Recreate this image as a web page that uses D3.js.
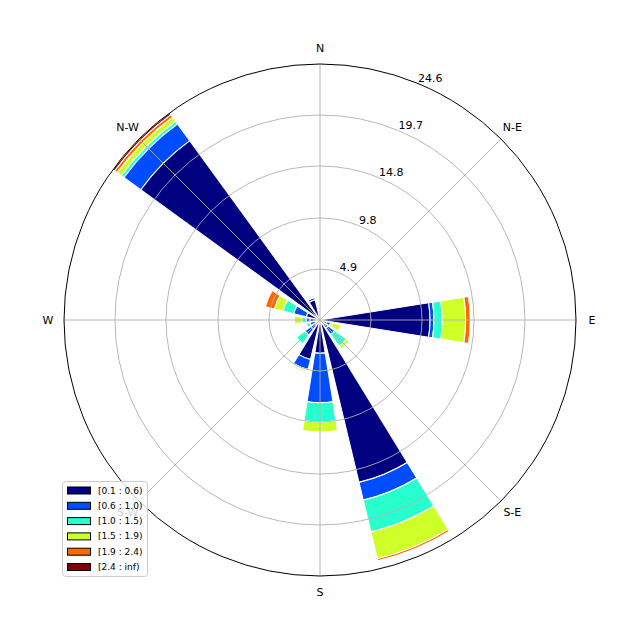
<!DOCTYPE html>
<html>
<head>
<meta charset="utf-8">
<script src="https://cdn.jsdelivr.net/npm/d3@7"></script>
<style>
  html, body { margin: 0; padding: 0; background: #fff; }
  svg { display: block; font-family: "DejaVu Sans", sans-serif; }
</style>
</head>
<body>
<svg id="chart" width="640" height="640"></svg>
<script>
// ---- data ----
const directions = ["N","NNE","NE","ENE","E","ESE","SE","SSE","S","SSW","SW","WSW","W","WNW","NW","NNW"];
const bearings = [0,22.5,45,67.5,90,112.5,135,157.5,180,202.5,225,247.5,270,292.5,315,337.5];
const binLabels = ["[0.1 : 0.6)","[0.6 : 1.0)","[1.0 : 1.5)","[1.5 : 1.9)","[1.9 : 2.4)","[2.4 : inf)"];
// frequency (%) per direction for each speed bin
const bin0 = [0,0,0,0,10.57,0.67,0.96,16.05,3.2,3.9,1.05,0.5,0.96,1.35,21.3,2.0];
const bin1 = [0,0,0,0,0.38,0.39,0.77,1.75,4.75,1.0,0.75,0.5,0.39,1.25,2.0,0.2];
const bin2 = [0,0,0,0,0.80,0.19,1.40,3.15,1.85,0.15,1.0,0.35,0.41,1.05,0.3,0];
const bin3 = [0,0,0,0,2.25,0.82,0.33,2.65,0.95,0.15,0,0,0.71,0.85,0.5,0];
const bin4 = [0,0,0,0,0.44,0,0,0.2,0,0,0,0,0,0.9,0.3,0];
const bin5 = [0,0,0,0,0,0,0,0,0,0,0,0,0,0,0.2,0];
const bins = [bin0,bin1,bin2,bin3,bin4,bin5];
const rTicks = [4.9,9.8,14.8,19.7,24.6];
const rMax = 24.6;
const cardinalAngles = [0,45,90,135,180,225,270,315];
const cardinalLabels = ["N","N-E","E","S-E","S","S-W","W","N-W"];
const colors = ["#000080","#004dff","#29ffce","#ceff29","#ff6800","#800000"];

// ---- drawing ----
const svg = d3.select("#chart");
const cx = 320, cy = 320, R = 256;
const r = d3.scaleLinear().domain([0, rMax]).range([0, R]);
const toRad = d => d * Math.PI / 180;
const g = svg.append("g").attr("transform", `translate(${cx},${cy})`);

// stacked table
const stacks = directions.map((d, i) => {
  let off = 0;
  return bins.map((b, k) => {
    const s = { dir: d, bearing: bearings[i], bin: k, y0: off, y1: off + b[i] };
    off += b[i];
    return s;
  });
});
const segs = [];
bins.forEach((b, k) => stacks.forEach(st => { if (st[k].y1 > st[k].y0) segs.push(st[k]); }));

const halfOpen = 22.5 * 0.8 / 2;
const arc = d3.arc()
  .innerRadius(d => r(d.y0))
  .outerRadius(d => r(d.y1))
  .startAngle(d => toRad(d.bearing - halfOpen))
  .endAngle(d => toRad(d.bearing + halfOpen));

g.append("g").selectAll("path").data(segs).join("path")
  .attr("d", arc)
  .attr("fill", d => colors[d.bin])
  .attr("stroke", "#fff")
  .attr("stroke-width", 1.1)
  .attr("stroke-linejoin", "miter");

// grid on top
const grid = g.append("g").attr("fill", "none").attr("stroke", "#b0b0b0").attr("stroke-width", 0.9);
grid.selectAll("circle").data(rTicks.slice(0, -1)).join("circle").attr("r", d => r(d));
grid.selectAll("line").data(cardinalAngles).join("line")
  .attr("x1", 0).attr("y1", 0)
  .attr("x2", d => R * Math.sin(toRad(d)))
  .attr("y2", d => -R * Math.cos(toRad(d)));
g.append("circle").attr("r", R).attr("fill", "none").attr("stroke", "#000").attr("stroke-width", 1);

// radial tick labels at bearing 22.5
g.append("g").selectAll("text").data(rTicks).join("text")
  .attr("x", d => r(d) * Math.sin(toRad(22.5)))
  .attr("y", d => -r(d) * Math.cos(toRad(22.5)) - 2)
  .attr("font-size", 11)
  .attr("text-anchor", "start")
  .text(d => d.toFixed(1));

// cardinal labels
g.append("g").selectAll("text").data(cardinalAngles).join("text")
  .attr("x", d => 272 * Math.sin(toRad(d)))
  .attr("y", d => -272 * Math.cos(toRad(d)))
  .attr("font-size", 11)
  .attr("text-anchor", "middle")
  .attr("dominant-baseline", "central")
  .text((d, i) => cardinalLabels[i]);

// legend
const lg = svg.append("g");
lg.append("rect").attr("x", 62.5).attr("y", 481.5).attr("width", 85).attr("height", 95)
  .attr("rx", 3).attr("fill", "#fff").attr("fill-opacity", 0.8)
  .attr("stroke", "#cccccc").attr("stroke-width", 1);
const rows = lg.selectAll("g.row").data(binLabels).join("g").attr("class", "row")
  .attr("transform", (d, i) => `translate(0,${490.5 + i * 15.3})`);
rows.append("rect").attr("x", 67.5).attr("y", -3.5).attr("width", 23).attr("height", 7)
  .attr("fill", (d, i) => colors[i]).attr("stroke", "#000").attr("stroke-width", 1);
rows.append("text").attr("x", 98).attr("y", 0).attr("dominant-baseline", "central")
  .attr("font-size", 9).text(d => d);
</script>
</body>
</html>
